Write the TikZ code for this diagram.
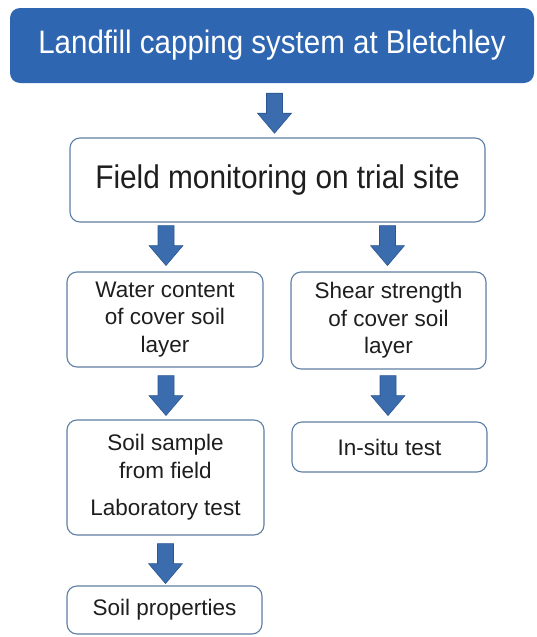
\documentclass[tikz,border=0pt]{standalone}
\usepackage{fontspec}
\setmainfont{Liberation Sans}
\usetikzlibrary{calc}
\definecolor{titleblue}{HTML}{2F66B2}
\definecolor{arrowblue}{HTML}{3A6CAE}
\definecolor{arrowedge}{HTML}{2B568F}
\definecolor{boxedge}{HTML}{5E7FA4}
\definecolor{txt}{HTML}{1E1E1E}
\tikzset{
 flowbox/.style={draw=boxedge, line width=1.1pt, rounded corners=10pt, fill=white, align=center, text=txt, inner sep=0pt},
 boxtext/.style={font=\fontsize{22.5}{27.5}\selectfont},
 downarrow/.pic={\filldraw[fill=arrowblue, draw=arrowedge, line width=0.6pt] (-8,0) -- (8,0) -- (8,20) -- (17,20) -- (0,40) -- (-17,20) -- (-8,20) -- cycle;}
}
\begin{document}
\begin{tikzpicture}[x=1pt,y=-1pt]
\useasboundingbox (0,0) rectangle (536,637);
\node[fill=titleblue, rounded corners=10pt, minimum width=524pt, minimum height=75pt, text=white, font=\fontsize{29.5}{34}\selectfont, inner sep=0pt] (title) at (272,45.5) {\scalebox{1}[1.1]{Landfill capping system at Bletchley}};
\node[flowbox, minimum width=415pt, minimum height=84pt, font=\fontsize{29.8}{34}\selectfont] (field) at (277.5,180) {\scalebox{1}[1.1]{Field monitoring on trial site}};
\node[flowbox, boxtext, minimum width=196pt, minimum height=95pt] (water) at (165,319.5) {Water content\\of cover soil\\layer};
\node[flowbox, boxtext, minimum width=195pt, minimum height=97pt] (shear) at (388.5,320.5) {Shear strength\\of cover soil\\layer};
\node[flowbox, boxtext, minimum width=197pt, minimum height=115pt] (sample) at (165.5,477.5) {Soil sample\\from field\\[10pt]Laboratory test};
\node[flowbox, boxtext, minimum width=195pt, minimum height=50pt] (insitu) at (389.5,447) {In-situ test};
\node[flowbox, boxtext, minimum width=195pt, minimum height=48pt] (props) at (164.5,610) {Soil properties};
\pic at ($(title.south)+(2.5,10)$) {downarrow};
\pic at ($(field.south -| water.north)+(1,3)$) {downarrow};
\pic at ($(field.south -| shear.north)+(-1,3)$) {downarrow};
\pic at ($(water.south)+(1,8)$) {downarrow};
\pic at ($(shear.south)+(-0.5,6)$) {downarrow};
\pic at ($(sample.south)+(0,8)$) {downarrow};
\end{tikzpicture}
\end{document}
